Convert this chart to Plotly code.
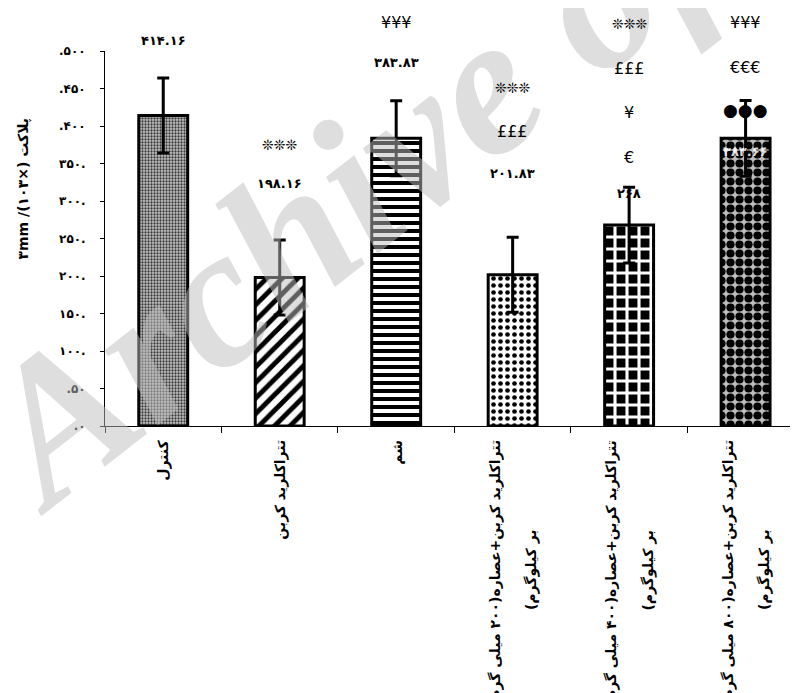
import plotly.graph_objects as go

# ---- data ----
categories = ["کنترل", "تتراکلرید کربن", "شم",
              "تتراکلرید کربن+عصاره(۲۰۰ میلی گرم<br><br>بر کیلوگرم)\u200f",
              "تتراکلرید کربن+عصاره(۴۰۰ میلی گرم<br><br>بر کیلوگرم)\u200f",
              "تتراکلرید کربن+عصاره(۸۰۰ میلی گرم<br><br>بر کیلوگرم)\u200f"]
values = [414.16, 198.16, 383.83, 201.83, 268.0, 383.66]
errors = [50.0, 50.0, 50.0, 50.0, 50.5, 50.5]
value_labels = ["۴۱۴.۱۶", "۱۹۸.۱۶", "۳۸۳.۸۳", "۲۰۱.۸۳", "۲۶۸", "۳۸۳.۶۶"]
# significance marks per bar (top to bottom)
sig_marks = [[], ["❊❊❊"], ["¥¥¥"], ["❊❊❊", "£££"],
             ["❊❊❊", "£££", "¥", "€"], ["¥¥¥", "€€€", "●●●"]]
y_tickvals = [0, 50, 100, 150, 200, 250, 300, 350, 400, 450, 500]
y_ticktext = [".۰", ".۵۰", "۱۰۰.", "۱۵۰.", "۲۰۰.", "۲۵۰.", "۳۰۰.", "۳۵۰.", ".۴۰۰", ".۴۵۰", ".۵۰۰"]
y_title = "۳mm /(۱۰۳×) پلاکت"
watermark = "Archive of SID"

# ---- styles / layout offsets (pixels above bar top) ----
label_shift = [75, 94, 76, 101, 32, -13]
label_color = ["black", "black", "black", "black", "black", "rgba(255,255,255,0.85)"]
sig_shift = [[], [132], [116], [187, 143], [201, 157, 113, 68], [116, 71, 28]]
pat_shape = [".", "/", "-", ".", "+", "."]
pat_size = [3, 11, 8, 7, 12, 9]
pat_solid = [0.45, 0.45, 0.5, 0.35, 0.45, 0.65]
pat_fg = ["#3a3a3a", "black", "black", "black", "white", "black"]
pat_bg = ["#c4c4c4", "white", "white", "white", "black", "#bdbdbd"]

xs = list(range(len(values)))
FONT = "DejaVu Sans"

fig = go.Figure()
fig.add_trace(go.Bar(
    x=xs, y=values, width=0.42,
    marker=dict(color="white", line=dict(color="black", width=3),
                pattern=dict(shape=pat_shape, size=pat_size, solidity=pat_solid,
                             fgcolor=pat_fg, bgcolor=pat_bg, fillmode="replace")),
    error_y=dict(type="data", array=errors, color="black", thickness=3, width=6, visible=True),
    showlegend=False, hoverinfo="skip",
))

ann = []
# watermark first so it sits under the other texts
ann.append(dict(x=0.56, y=0.93, xref="paper", yref="paper", text=watermark, showarrow=False,
                textangle=-38, xanchor="center", yanchor="middle",
                font=dict(family="Liberation Serif", size=200, color="rgba(190,190,190,0.5)",
                          weight="bold", style="italic")))
for i, v in enumerate(values):
    ann.append(dict(x=i, y=v, xref="x", yref="y", text=value_labels[i], showarrow=False,
                    yshift=label_shift[i], xanchor="center", yanchor="middle",
                    font=dict(family=FONT, size=13, color=label_color[i], weight="bold")))
    for t, s in zip(sig_marks[i], sig_shift[i]):
        fs = 14 if "❊" in t else (17 if "●" in t else 16)
        ann.append(dict(x=i, y=v, xref="x", yref="y", text=t, showarrow=False,
                        yshift=s, xanchor="center", yanchor="middle",
                        font=dict(family=FONT, size=fs, color="black")))
    ann.append(dict(x=i, y=0, xref="x", yref="paper", text=categories[i], showarrow=False,
                    textangle=-90, xanchor="center", yanchor="top", yshift=-12, align="center",
                    font=dict(family=FONT, size=14, color="black", weight="bold")))

ann.append(dict(x=-0.119, y=0.632, xref="paper", yref="paper", text=y_title, showarrow=False,
                textangle=-90, xanchor="center", yanchor="middle",
                font=dict(family=FONT, size=14, color="black", weight="bold")))

fig.update_layout(
    width=790, height=685,
    margin=dict(l=96.5, r=0, t=43, b=267),
    plot_bgcolor="white", paper_bgcolor="white",
    annotations=ann,
    xaxis=dict(range=[-0.5, 5.45], tickvals=[-0.5, 0.5, 1.5, 2.5, 3.5, 4.5, 5.5],
               showticklabels=False, ticks="outside", ticklen=6, tickcolor="black",
               showline=True, linecolor="black", linewidth=1, showgrid=False, zeroline=False),
    yaxis=dict(range=[0, 500], tickvals=y_tickvals, ticktext=y_ticktext,
               ticks="outside", ticklen=4, tickcolor="black", ticklabelstandoff=12,
               tickfont=dict(family=FONT, size=12, color="black", weight="bold"),
               showline=True, linecolor="black", linewidth=1, showgrid=False, zeroline=False),
)

fig.write_html("out.html")
